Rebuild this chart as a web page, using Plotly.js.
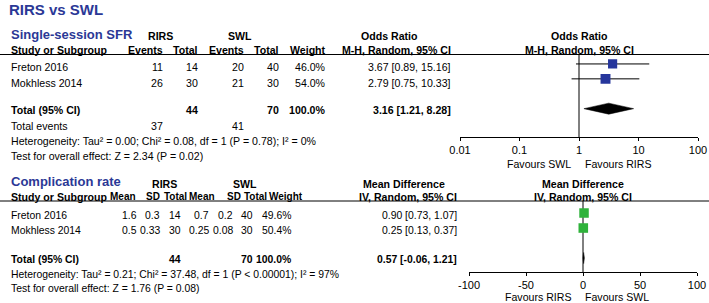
<!DOCTYPE html>
<html><head><meta charset="utf-8">
<script src="https://cdn.plot.ly/plotly-3.0.1.min.js"></script>
<style>html,body{margin:0;padding:0;background:#fff}#chart{width:709px;height:303px}</style>
</head><body><div id="chart"></div>
<script>
// ---------- DATA ----------
const studies = ['Freton 2016', 'Mokhless 2014'];
// Single-session SFR (Odds Ratio)
const sfrRirsEvents = [11, 26];
const sfrRirsTotal  = [14, 30];
const sfrSwlEvents  = [20, 21];
const sfrSwlTotal   = [40, 30];
const sfrWeight     = [46.0, 54.0];
const sfrOR         = [3.67, 2.79];
const sfrLo         = [0.89, 0.75];
const sfrHi         = [15.16, 10.33];
const sfrPooled     = [3.16, 1.21, 8.28];   // estimate, lower, upper
const sfrTotals     = [44, 70];
const sfrTotalEvents= [37, 41];
const sfrHet  = 'Heterogeneity: Tau² = 0.00; Chi² = 0.08, df = 1 (P = 0.78); I² = 0%';
const sfrTest = 'Test for overall effect: Z = 2.34 (P = 0.02)';
const sfrTicks = [0.01, 0.1, 1, 10, 100];
const sfrTickText = ['0.01', '0.1', '1', '10', '100'];
// Complication rate (Mean Difference)
const compRirsMean  = [1.6, 0.5];
const compRirsSD    = [0.3, 0.33];
const compRirsTotal = [14, 30];
const compSwlMean   = [0.7, 0.25];
const compSwlSD     = [0.2, 0.08];
const compSwlTotal  = [40, 30];
const compWeight    = [49.6, 50.4];
const compMD        = [0.90, 0.25];
const compLo        = [0.73, 0.13];
const compHi        = [1.07, 0.37];
const compPooled    = [0.57, -0.06, 1.21];
const compTotals    = [44, 70];
const compHet  = 'Heterogeneity: Tau² = 0.21; Chi² = 37.48, df = 1 (P &lt; 0.00001); I² = 97%';
const compTest = 'Test for overall effect: Z = 1.76 (P = 0.08)';
const compTicks = [-100, -50, 0, 50, 100];
const compTickText = ['-100', '-50', '0', '50', '100'];

// ---------- STYLE / LAYOUT HELPERS ----------
const W = 709, H = 303;
const FONT = 'Liberation Sans, Arial, sans-serif';
const BLUE_TXT = '#2b3896';
const BLUE_SQ = '#26369c';
const GREEN_SQ = '#2fb23b';
const FS = 10.6;
const px = x => x / W;
const py = y => 1 - y / H;
const anns = [];
function ann(text, x, y, anchor, opt) {
  opt = opt || {};
  anns.push({
    text: opt.bold ? '<b>' + text + '</b>' : text,
    x: px(x), y: py(y), xref: 'paper', yref: 'paper',
    xanchor: anchor, yanchor: 'middle', showarrow: false, borderpad: 0,
    font: {family: FONT, size: opt.size || FS, color: opt.color || '#000'}
  });
}
const ci = (v, lo, hi) => v.toFixed(2) + ' [' + lo.toFixed(2) + ', ' + hi.toFixed(2) + ']';
const pct = v => v.toFixed(1) + '%';

// ---------- TEXT: title ----------
ann('RIRS vs SWL', 8, 10, 'left', {bold: true, size: 15, color: BLUE_TXT});

// ---------- TOP TABLE ----------
ann('Single-session SFR', 10, 34, 'left', {bold: true, size: 13, color: BLUE_TXT});
ann('RIRS', 160, 36, 'center', {bold: true});
ann('SWL', 240, 36, 'center', {bold: true});
ann('Odds Ratio', 389, 36, 'center', {bold: true});
const tHdrY = 50.5;
const tCols = [164, 199, 245, 280, 327, 452];
ann('Study or Subgroup', 10, tHdrY, 'left', {bold: true});
['Events', 'Total', 'Events', 'Total', 'Weight', 'M-H, Random, 95% CI'].forEach((t, i) => ann(t, tCols[i], tHdrY, 'right', {bold: true}));
const tRowY = [67, 83];
studies.forEach((s, i) => {
  ann(s, 10, tRowY[i], 'left');
  [sfrRirsEvents[i], sfrRirsTotal[i], sfrSwlEvents[i], sfrSwlTotal[i], pct(sfrWeight[i]), ci(sfrOR[i], sfrLo[i], sfrHi[i])]
    .forEach((v, j) => ann(String(v), tCols[j], tRowY[i], 'right'));
});
ann('Total (95% CI)', 10, 110, 'left', {bold: true});
ann(String(sfrTotals[0]), tCols[1], 110, 'right', {bold: true});
ann(String(sfrTotals[1]), tCols[3], 110, 'right', {bold: true});
ann(pct(sfrWeight.reduce((a, b) => a + b, 0)), tCols[4], 110, 'right', {bold: true});
ann(ci(sfrPooled[0], sfrPooled[1], sfrPooled[2]), tCols[5], 110, 'right', {bold: true});
ann('Total events', 10, 126, 'left');
ann(String(sfrTotalEvents[0]), tCols[0], 126, 'right');
ann(String(sfrTotalEvents[1]), tCols[2], 126, 'right');
ann(sfrHet, 10, 141, 'left');
ann(sfrTest, 10, 156, 'left');
// right plot header
ann('Odds Ratio', 579, 36, 'center', {bold: true});
ann('M-H, Random, 95% CI', 579, tHdrY, 'center', {bold: true});
ann('Favours SWL', 572, 164, 'right');
ann('Favours RIRS', 584, 164, 'left');

// ---------- BOTTOM TABLE ----------
const BFS = 10.4, BHFS = 10;
ann('Complication rate', 10, 181, 'left', {bold: true, size: 13, color: BLUE_TXT});
ann('RIRS', 164, 184, 'center', {bold: true});
ann('SWL', 245, 184, 'center', {bold: true});
ann('Mean Difference', 404, 184, 'center', {bold: true});
const bHdrY = 196.5;
const bHdrCols = [137, 161, 188, 216, 242, 268, 304, 458];
const bCols = [138, 161, 182, 210, 234, 254, 292, 458];
ann('Study or Subgroup', 10, bHdrY, 'left', {bold: true});
['Mean', 'SD', 'Total', 'Mean', 'SD', 'Total', 'Weight'].forEach((t, i) => ann(t, bHdrCols[i], bHdrY, 'right', {bold: true, size: BHFS}));
ann('IV, Random, 95% CI', bHdrCols[7], bHdrY, 'right', {bold: true});
const bRowY = [215.5, 230.5];
studies.forEach((s, i) => {
  ann(s, 10, bRowY[i], 'left', {size: BFS});
  [compRirsMean[i], compRirsSD[i], compRirsTotal[i], compSwlMean[i], compSwlSD[i], compSwlTotal[i], pct(compWeight[i]), ci(compMD[i], compLo[i], compHi[i])]
    .forEach((v, j) => ann(String(v), bCols[j], bRowY[i], 'right', {size: BFS}));
});
ann('Total (95% CI)', 10, 259, 'left', {bold: true, size: BFS});
ann(String(compTotals[0]), bCols[2], 259, 'right', {bold: true, size: BFS});
ann(String(compTotals[1]), bCols[5], 259, 'right', {bold: true, size: BFS});
ann(pct(compWeight.reduce((a, b) => a + b, 0)), bCols[6], 259, 'right', {bold: true, size: BFS});
ann(ci(compPooled[0], compPooled[1], compPooled[2]), bCols[7], 259, 'right', {bold: true, size: BFS});
ann(compHet, 10, 274, 'left', {size: BFS});
ann(compTest, 10, 288.5, 'left', {size: BFS});
ann('Mean Difference', 583, 184, 'center', {bold: true});
ann('IV, Random, 95% CI', 583, bHdrY + 1, 'center', {bold: true});
ann('Favours RIRS', 573, 297, 'right');
ann('Favours SWL', 584, 297, 'left');

// ---------- TRACES ----------
function ciSegments(lo, hi) {
  const x = [], y = [];
  lo.forEach((l, i) => { x.push(l, hi[i], null); y.push(i, i, null); });
  return {x, y};
}
function diamond(p, row, h) {
  return {x: [p[1], p[0], p[2], p[0], p[1]], y: [row, row - h, row, row + h, row]};
}
const totalRow = studies.length + 1;
const sqSize = w => 13.5 * Math.sqrt(w / 100);

const topCI = ciSegments(sfrLo, sfrHi);
const topD = diamond(sfrPooled, totalRow, 0.37);
const botCI = ciSegments(compLo, compHi);
const botD = diamond(compPooled, totalRow, 0.37);
const topY = [-0.633, 4.9];
const botY = [-0.8, 3.93];

const traces = [
  {x: [1, 1], y: topY, mode: 'lines', line: {color: '#000', width: 1}, xaxis: 'x', yaxis: 'y', hoverinfo: 'skip'},
  {x: topCI.x, y: topCI.y, mode: 'lines', line: {color: '#000', width: 1}, xaxis: 'x', yaxis: 'y', hoverinfo: 'skip'},
  {x: sfrOR, y: studies.map((s, i) => i), mode: 'markers', xaxis: 'x', yaxis: 'y', opacity: 1,
   marker: {symbol: 'square', size: sfrWeight.map(sqSize), color: BLUE_SQ, opacity: 1, line: {width: 0}}},
  {x: topD.x, y: topD.y, mode: 'lines', fill: 'toself', fillcolor: '#000', line: {color: '#000', width: 0.5}, xaxis: 'x', yaxis: 'y'},
  {x: [0, 0], y: botY, mode: 'lines', line: {color: '#000', width: 1}, xaxis: 'x2', yaxis: 'y2', hoverinfo: 'skip'},
  {x: botCI.x, y: botCI.y, mode: 'lines', line: {color: '#000', width: 1}, xaxis: 'x2', yaxis: 'y2', hoverinfo: 'skip'},
  {x: compMD, y: studies.map((s, i) => i), mode: 'markers', xaxis: 'x2', yaxis: 'y2', opacity: 1,
   marker: {symbol: 'square', size: compWeight.map(sqSize), color: GREEN_SQ, opacity: 1, line: {width: 0}}},
  {x: botD.x, y: botD.y, mode: 'lines', fill: 'toself', fillcolor: '#000', line: {color: '#000', width: 0.5}, xaxis: 'x2', yaxis: 'y2'}
];

const axFont = {family: FONT, size: 11, color: '#000'};
const topDom = [px(460), px(698)];
const botDom = [px(469), px(697)];
const layout = {
  width: W, height: H, margin: {l: 0, r: 0, t: 0, b: 0},
  paper_bgcolor: '#fff', plot_bgcolor: 'rgba(0,0,0,0)', showlegend: false,
  xaxis: {domain: topDom, anchor: 'y', type: 'log', range: [-2, 2], tickvals: sfrTicks, ticktext: sfrTickText,
          showline: true, linecolor: '#000', linewidth: 1, ticks: 'outside', ticklen: 3, tickcolor: '#000',
          showgrid: false, zeroline: false, tickfont: axFont, fixedrange: true},
  xaxis3: {overlaying: 'x', anchor: 'y', type: 'log', range: [-2, 2], tickvals: sfrTicks,
          showline: false, ticks: 'inside', ticklen: 3, tickcolor: '#000', showticklabels: false, showgrid: false, zeroline: false},
  yaxis: {domain: [py(137), py(54.5)], anchor: 'x', range: [topY[1], topY[0]], visible: false, fixedrange: true},
  xaxis2: {domain: botDom, anchor: 'y2', range: [-100, 100], tickvals: compTicks, ticktext: compTickText,
          showline: true, linecolor: '#000', linewidth: 1, ticks: 'outside', ticklen: 3, tickcolor: '#000',
          showgrid: false, zeroline: false, tickfont: axFont, fixedrange: true},
  xaxis4: {overlaying: 'x2', anchor: 'y2', range: [-100, 100], tickvals: compTicks,
          showline: false, ticks: 'inside', ticklen: 3, tickcolor: '#000', showticklabels: false, showgrid: false, zeroline: false},
  yaxis2: {domain: [py(272), py(201)], anchor: 'x2', range: [botY[1], botY[0]], visible: false, fixedrange: true},
  shapes: [
    {type: 'line', xref: 'paper', yref: 'paper', x0: 0, x1: 1, y0: py(54.5), y1: py(54.5), line: {color: '#000', width: 1}},
    {type: 'line', xref: 'paper', yref: 'paper', x0: 0, x1: 1, y0: py(201), y1: py(201), line: {color: '#000', width: 1}}
  ],
  annotations: anns
};
Plotly.newPlot('chart', traces, layout, {staticPlot: true, displayModeBar: false});
</script></body></html>
